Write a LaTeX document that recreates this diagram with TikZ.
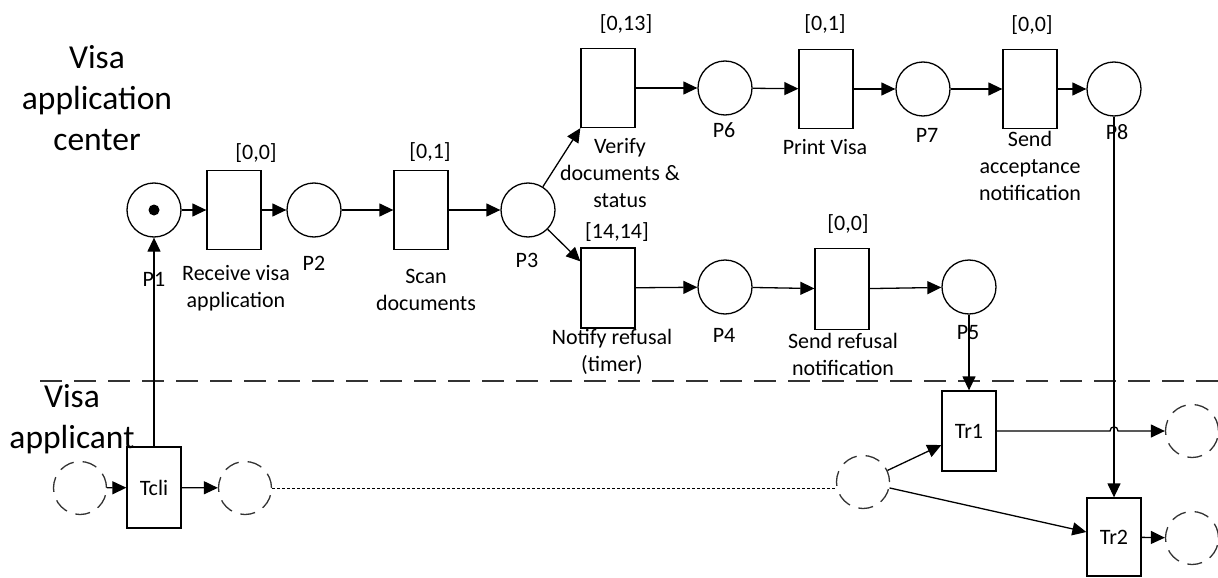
\documentclass[tikz,border=0pt]{standalone}
\usepackage{fontspec}
\setmainfont{Carlito}
\usetikzlibrary{arrows.meta}
\newcommand{\lblfnt}{\fontsize{22}{27}\selectfont}
\newcommand{\bigfnt}{\fontsize{33.5}{41}\selectfont}
\begin{document}
\begin{tikzpicture}[x=1pt,y=-1pt,
  line width=1.3pt,
  place/.style={circle,draw,minimum size=54pt,inner sep=0pt},
  dplace/.style={circle,draw=black!80,minimum size=53pt,inner sep=0pt,dash pattern=on 15pt off 9pt},
  trans/.style={rectangle,draw,minimum width=54pt,minimum height=79pt,inner sep=0pt,font=\lblfnt},
  lbl/.style={font=\lblfnt,align=center,inner sep=0pt},
  big/.style={font=\bigfnt,align=center,inner sep=0pt},
  arr/.style={-{Triangle[length=14pt,width=13pt]}},
  sep/.style={dash pattern=on 22pt off 12pt,line width=1.5pt,black!80},
  dotline/.style={dash pattern=on 3pt off 2pt,line width=1pt},
]
\useasboundingbox (0,0) rectangle (1218,578);

% separator
\draw[sep] (40,381) -- (1218,381);

% lane titles
\node[big] (lc) at (97,98) {Visa\\application\\center};
\node[big] (la) at (72,419) {Visa\\applicant};

% places and transitions
\node[place] (P1) at (154,210) {};
\fill (P1) circle[radius=5.5];
\node[trans] (Recv) at (234,210) {};
\node[place] (P2) at (314,210) {};
\node[trans] (Scan) at (421,210) {};
\node[place] (P3) at (528,210) {};
\node[trans] (Ver) at (608,88) {};
\node[place] (P6) at (725,88) {};
\node[trans] (Print) at (826,89) {};
\node[place] (P7) at (923,89) {};
\node[trans] (Acc) at (1030,89) {};
\node[place] (P8) at (1114,89) {};
\node[trans,minimum height=80pt] (Ntf) at (608,288) {};
\node[place] (P4) at (725,287) {};
\node[trans,minimum height=81pt] (Ref) at (842,289) {};
\node[place] (P5) at (969,287) {};
\node[trans,minimum height=80pt] (Tr1) at (969,431) {Tr1};
\node[trans,minimum height=78pt] (Tr2) at (1114,537) {Tr2};
\node[trans,minimum height=81pt] (Tcli) at (154,487.5) {Tcli};
\node[dplace] (D1) at (80,488) {};
\node[dplace] (D2) at (245,488) {};
\node[dplace] (D3) at (863,482) {};
\node[dplace] (D4) at (1192,431) {};
\node[dplace] (D5) at (1192,538) {};

% time intervals
\node[lbl] (i1) at (256,153) {[0,0]};
\node[lbl] (i2) at (430,152) {[0,1]};
\node[lbl] (i3) at (626,24) {[0,13]};
\node[lbl] (i4) at (617,232) {[14,14]};
\node[lbl] (i5) at (825,24) {[0,1]};
\node[lbl] (i6) at (1032,25) {[0,0]};
\node[lbl] (i7) at (848,224) {[0,0]};

% place names
\node[lbl] (n1) at (154,279) {P1};
\node[lbl] (n2) at (314,263) {P2};
\node[lbl] (n3) at (527,260) {P3};
\node[lbl] (n6) at (724,130) {P6};
\node[lbl] (n4) at (724,335) {P4};
\node[lbl] (n7) at (927,135) {P7};
\node[lbl] (n8) at (1117,132) {P8};
\node[lbl] (n5) at (968,333) {P5};

% transition names
\node[lbl] (t1) at (236,288) {Receive visa\\application};
\node[lbl] (t2) at (426,290) {Scan\\documents};
\node[lbl] (t3) at (620,173) {Verify\\documents \&\\status};
\node[lbl] (t4) at (612,352) {Notify refusal\\(timer)};
\node[lbl] (t5) at (825,147) {Print Visa};
\node[lbl] (t6) at (1030,166) {Send\\acceptance\\notification};
\node[lbl] (t7) at (843,354) {Send refusal\\notification};

% arcs
\draw[arr] (P1) -- (Recv);
\draw[arr] (Recv) -- (P2);
\draw[arr] (P2) -- (Scan);
\draw[arr] (Scan) -- (P3);
\draw[arr] (P3) -- (Ver.south west);
\draw[arr] (P3) -- ([yshift=-14pt]Ntf.north west);
\draw[arr] (Ver) -- (P6);
\draw[arr] (P6) -- (Print);
\draw[arr] (Print) -- (P7);
\draw[arr] (P7) -- (Acc);
\draw[arr] (Acc) -- (P8);
\draw[arr] (Ntf) -- (P4);
\draw[arr] (P4) -- (Ref);
\draw[arr] (Ref) -- (P5);
\draw[arr] (P5) -- (Tr1);
\draw[arr] (P8) -- (Tr2);
\draw[arr] (Tcli) -- (P1);
\draw[arr] (D1) -- (Tcli);
\draw[arr] (Tcli) -- (D2);
\draw[dotline] (D2.east) -- (D2.east -| D3.west);
\draw[arr] (D3) -- ([yshift=-14pt]Tr1.west);
\draw[arr] (D3) -- ([yshift=5pt]Tr2.west);
\draw[arr] (Tr1.east) -- (1110,431) .. controls (1110,425.5) and (1118,425.5) .. (1118,431) -- (D4.west);
\draw[arr] (Tr2) -- (D5);
\end{tikzpicture}
\end{document}
